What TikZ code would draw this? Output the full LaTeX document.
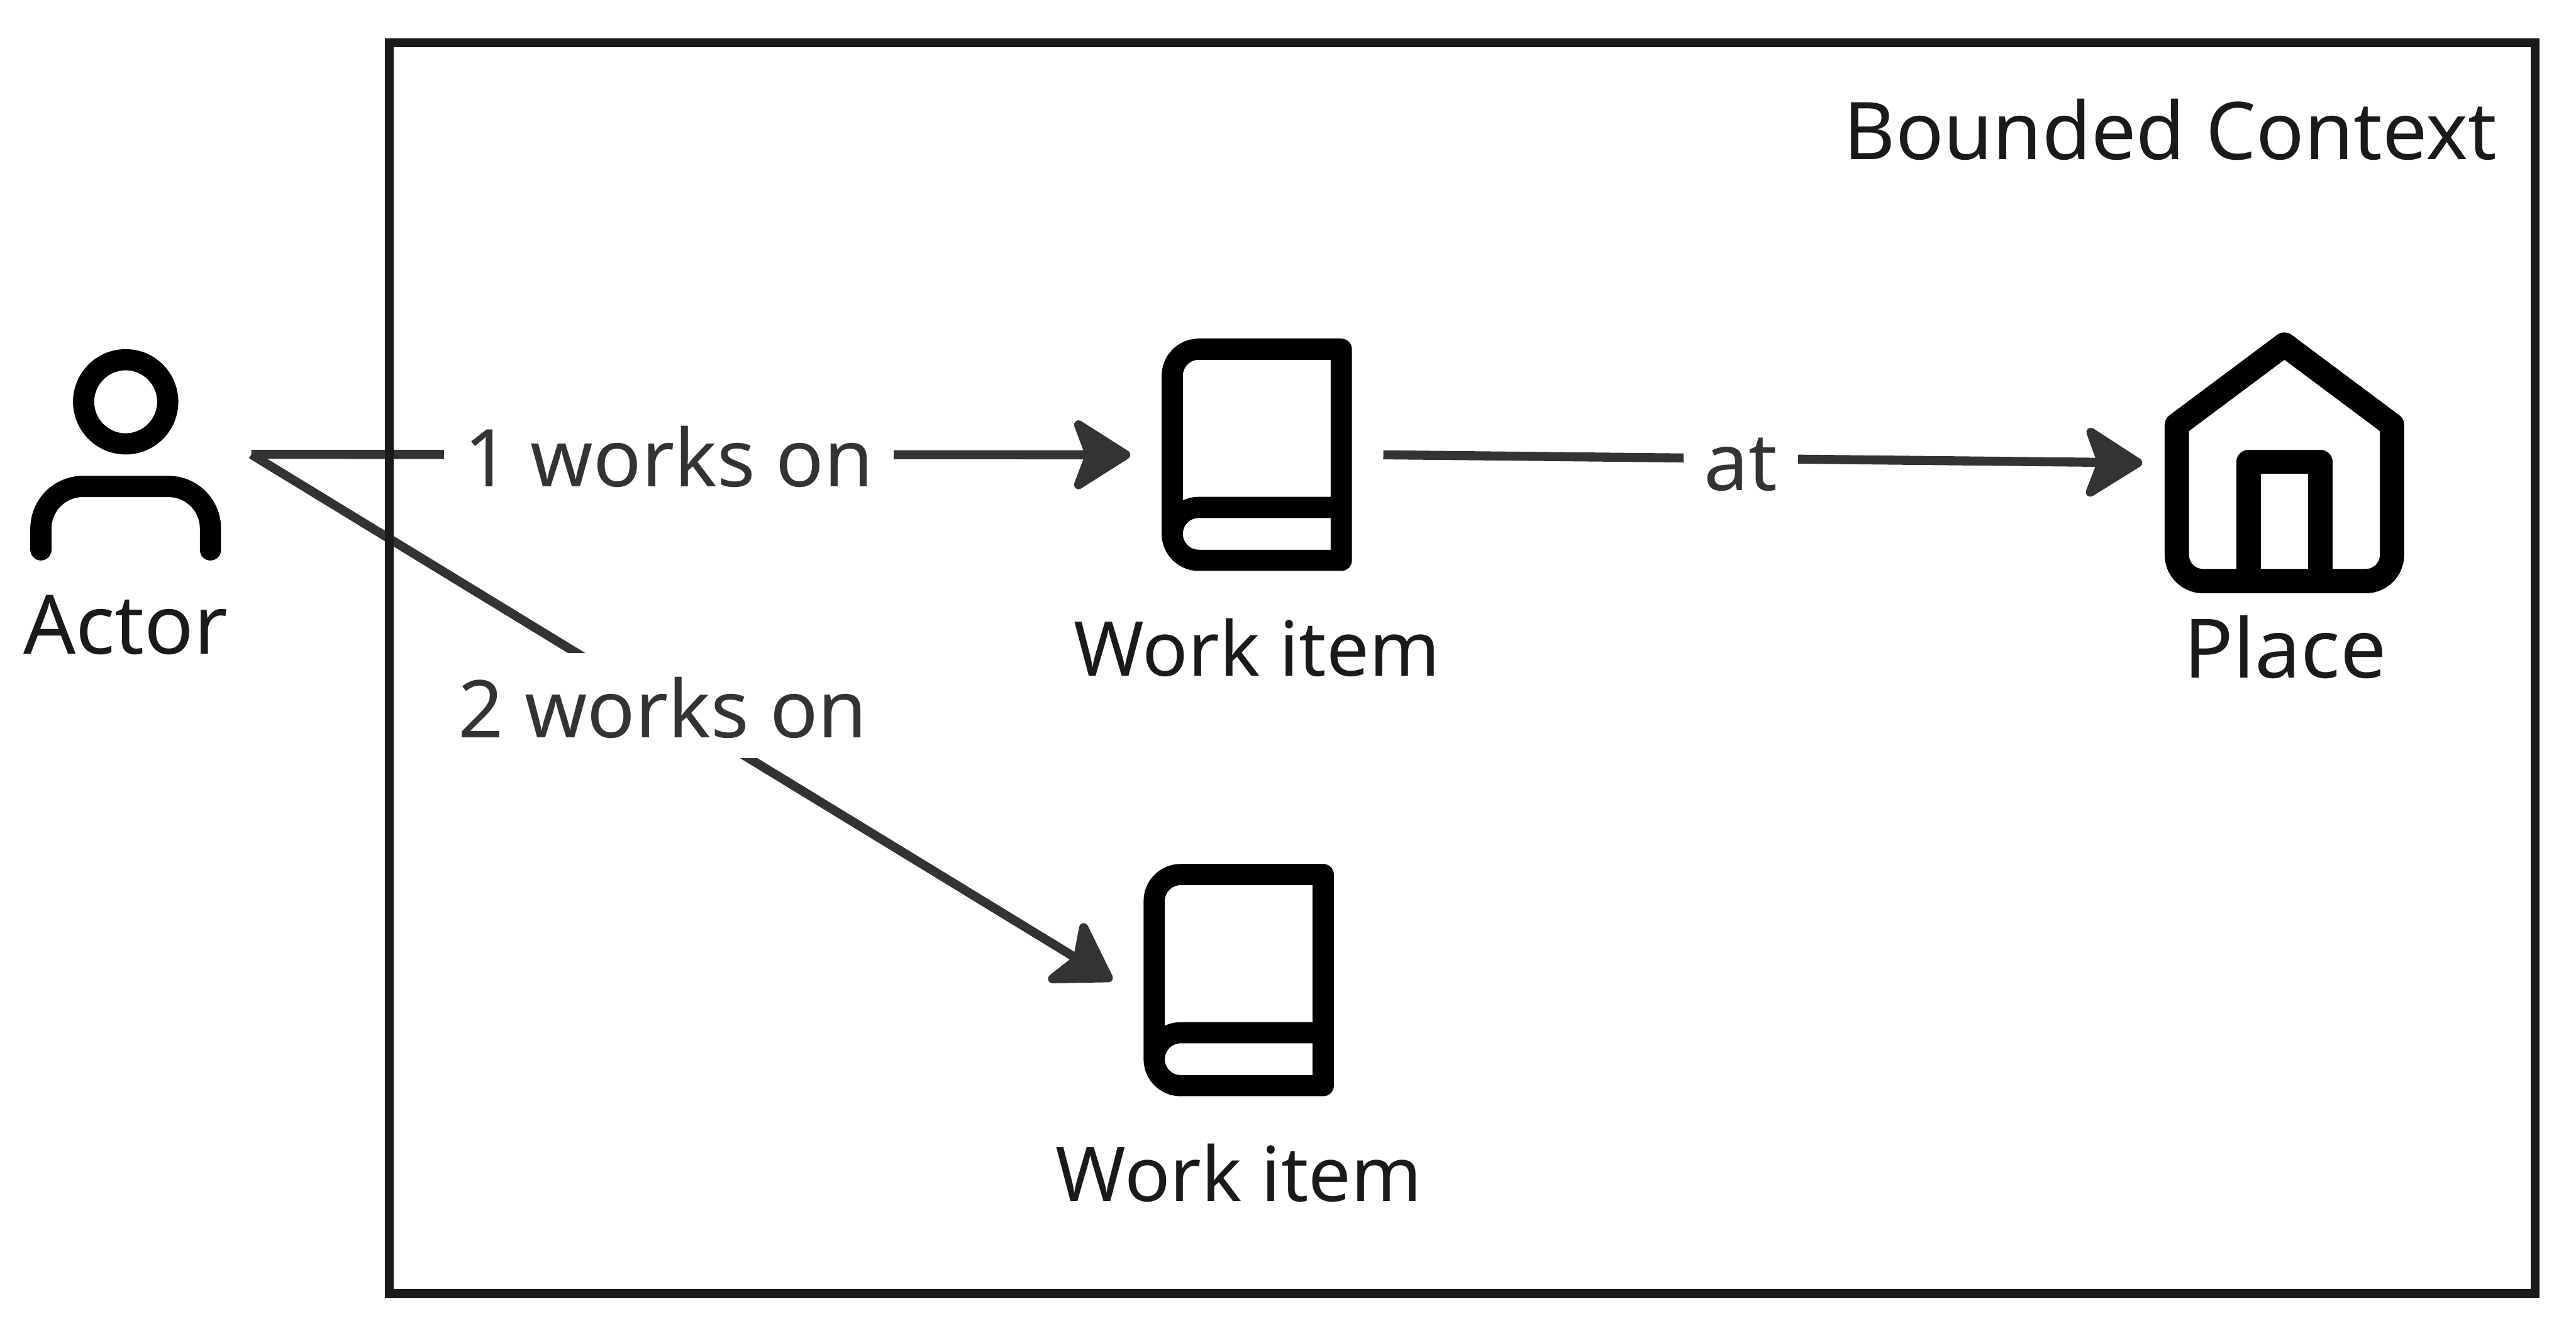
\documentclass[tikz,border=0pt]{standalone}
\usepackage{fontspec}
\setmainfont{Noto Sans}
\usetikzlibrary{arrows.meta}
\definecolor{ctxink}{HTML}{1A1A1A}
\definecolor{ctxedge}{HTML}{333333}

\begin{document}
\begin{tikzpicture}[
  iconline/.style={draw=black, line width=0.129cm, line join=round},
  slot/.style={inner sep=0pt, outer sep=0pt, minimum height=1.41cm},
  frame/.style={draw=ctxink, line width=0.053cm, inner sep=0pt, outer sep=0pt,
    minimum width=13.06cm, minimum height=7.61cm},
  flow/.style={draw=ctxedge, line width=0.055cm,
    -{Stealth[length=3.9mm,width=4.9mm,inset=0.9mm,round]}},
  elabel/.style={fill=white, text=ctxedge, font=\fontsize{13.8}{16}\selectfont,
    text height=0.39cm, text depth=0pt, inner xsep=0.125cm, inner ysep=0.125cm, pos=0.475},
  nlabel/.style={anchor=base, text=ctxink, font=\fontsize{13.1}{16}\selectfont,
    inner sep=0pt},
  biglabel/.style={nlabel, font=\fontsize{14.2}{16}\selectfont},
  actoricon/.pic={
    \draw[iconline] (0,0.32) circle[radius=0.256];
    \draw[iconline, line cap=round, rounded corners=0.256cm]
      (-0.516,-0.581) -- (-0.516,-0.195) -- (0.516,-0.195) -- (0.516,-0.581);
  },
  bookicon/.pic={
    \draw[iconline] (0.5145,-0.32) -- (-0.3535,-0.32)
      arc[start angle=90, end angle=270, radius=0.161]
      -- (0.5145,-0.642) -- (0.5145,0.6425) -- (-0.3535,0.6425)
      arc[start angle=90, end angle=180, radius=0.161] -- (-0.5145,-0.481);
  },
  houseicon/.pic={
    \draw[iconline, line width=0.148cm] (0,0.719) -- (0.655,0.23) -- (0.655,-0.56)
      arc[start angle=0, end angle=-90, radius=0.16] -- (-0.495,-0.72)
      arc[start angle=270, end angle=180, radius=0.16] -- (-0.655,0.23) -- cycle;
    \draw[iconline, line width=0.148cm] (-0.218,-0.72) -- (-0.218,0.006)
      -- (0.218,0.006) -- (0.218,-0.72);
  },
]
\useasboundingbox (0,0) rectangle (15.68,8.09);

% ===== icons =====
\node[slot, minimum width=1.53cm] (actor) at (0.765,5.325) {};
\node[slot, minimum width=1.54cm] (bookone) at (7.65,5.3225) {};
\node[slot, minimum width=1.54cm] (booktwo) at (7.54,2.126) {};
\node[slot, minimum width=1.73cm] (place) at (13.905,5.274) {};

\pic at (actor) {actoricon};
\pic at (bookone) {bookicon};
\pic at (booktwo) {bookicon};
\pic at (place) {houseicon};

% ===== labels =====
\node[biglabel] (actortext) at (0.765,4.11) {Actor};
\node[nlabel] (bookonetext) at (7.65,3.975) {Work item};
\node[nlabel] (booktwotext) at (7.54,0.78) {Work item};
\node[biglabel] (placetext) at (13.91,3.965) {Place};

% ===== connectors =====
\draw[flow] (actor.east) -- (bookone.west) node[elabel] (worksone) {1 works on};
\draw[flow] (actor.east) -- (booktwo.west) node[elabel, pos=0.478] (workstwo) {2 works on};
\draw[flow] (bookone.east) -- (place.west) node[elabel, pos=0.471] (atplace) {at};

% ===== context =====
\node[frame] (context) at (8.90,4.025) {};
\node[biglabel, font=\fontsize{13.8}{16}\selectfont] (contexttext) at (13.21,7.12) {Bounded Context};

\end{tikzpicture}
\end{document}
